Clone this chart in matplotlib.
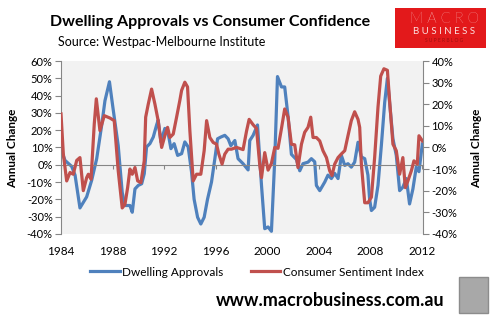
import matplotlib.pyplot as plt
from matplotlib.patches import Rectangle

# Dwelling approvals, annual change (%), left axis
da_years = [1984.00, 1984.31, 1984.83, 1985.09, 1985.47, 1985.99, 1986.38, 1986.77, 1987.16, 1987.41,
            1987.76, 1988.03, 1988.44, 1988.57, 1988.75, 1988.96, 1989.35, 1989.53, 1989.74, 1989.99,
            1990.26, 1990.46, 1990.64, 1990.90, 1991.16, 1991.42, 1991.54, 1991.75, 1992.06, 1992.27,
            1992.53, 1992.78, 1993.05, 1993.36, 1993.61, 1993.87, 1994.13, 1994.33, 1994.60, 1994.85,
            1995.11, 1995.37, 1995.68, 1995.94, 1996.15, 1996.40, 1996.71, 1996.97, 1997.18, 1997.49,
            1997.74, 1998.13, 1998.52, 1998.65, 1998.91, 1999.25, 1999.56, 1999.81, 2000.07, 2000.33,
            2000.59, 2000.80, 2001.11, 2001.36, 2001.62, 2001.88, 2002.27, 2002.53, 2002.78, 2003.17,
            2003.43, 2003.69, 2003.82, 2004.08, 2004.47, 2004.72, 2004.98, 2005.24, 2005.50, 2005.76,
            2006.02, 2006.27, 2006.53, 2006.79, 2007.05, 2007.31, 2007.57, 2007.82, 2007.95, 2008.09,
            2008.34, 2008.60, 2008.86, 2009.12, 2009.33, 2009.50, 2009.76, 2010.02, 2010.28, 2010.53,
            2010.80, 2011.05, 2011.31, 2011.57, 2011.78, 2012.04]
dwelling = [9, 2.5, -1, -6, -25, -18.6, -9, 3.5, 23, 37,
            48, 33, 11, -0.4, -16, -23.6, -23.6, -27.5, -14, -12,
            -11, -5.2, 10.3, 12.2, 16, 23, 25.8, 13.2, 21, 20,
            9.3, 12.2, 5.4, 6.4, 13.2, 10.3, -4.2, -20, -30.4, -34.3,
            -30.4, -20, -10, 3.5, 15, 16, 17, 15, 11, 14,
            3.5, 0.6, -3, 14, 17, 23, -12, -37, -36, -38.5,
            3.5, 51, 45, 45, 28, 6, 3, -3.5, 0.6, 1.5,
            3.5, 1.7, -12, -15, -10, -6, -8, -5, -8, 5.4,
            -0.4, 0.6, -1.4, 1.5, 13, 4.5, 3.5, -6, -20, -26.5,
            -24.6, -12, 11, 36, 50, 36, 15, 5.4, -15, -13,
            -8, -22.7, -14, -1.4, -4, 12]

# Consumer sentiment index, annual change (%), right axis
cs_years = [1984.00, 1984.18, 1984.44, 1984.70, 1984.95, 1985.22, 1985.47, 1985.73, 1985.99, 1986.12,
            1986.33, 1986.58, 1986.74, 1987.02, 1987.36, 1987.80, 1988.13, 1988.44, 1988.75, 1988.96,
            1989.17, 1989.35, 1989.53, 1989.74, 1989.95, 1990.20, 1990.46, 1990.57, 1990.77, 1991.03,
            1991.29, 1991.54, 1991.81, 1992.06, 1992.27, 1992.45, 1992.71, 1992.97, 1993.22, 1993.36,
            1993.61, 1993.82, 1994.00, 1994.26, 1994.52, 1994.85, 1995.11, 1995.30, 1995.55, 1995.81,
            1996.07, 1996.25, 1996.50, 1996.71, 1996.97, 1997.23, 1997.62, 1997.88, 1998.13, 1998.40,
            1998.60, 1998.91, 1999.17, 1999.43, 1999.56, 1999.81, 2000.07, 2000.33, 2000.59, 2000.84,
            2001.11, 2001.36, 2001.62, 2001.88, 2002.14, 2002.39, 2002.66, 2002.91, 2003.17, 2003.38,
            2003.56, 2003.82, 2004.08, 2004.33, 2004.60, 2004.85, 2005.03, 2005.24, 2005.50, 2005.76,
            2006.02, 2006.27, 2006.53, 2006.79, 2007.05, 2007.18, 2007.31, 2007.57, 2007.82, 2008.09,
            2008.34, 2008.60, 2008.81, 2009.06, 2009.33, 2009.50, 2009.76, 2010.02, 2010.28, 2010.53,
            2010.72, 2010.92, 2011.19, 2011.39, 2011.65, 2011.78, 2012.05]
sentiment = [15.5, -3, -15.5, -11.6, -12.4, -6, -4.7, -20, -14, -12.4,
             -14.7, 10.8, 22.5, 7.8, 14.7, 13.6, 12.4, -10.8, -28, -26.4,
             -18.6, -10, -12.4, -9.3, -15.5, -16.3, -6.2, 14, 20, 27,
             20, 12.4, 0, 5.4, 9.3, 4.6, 6.2, 14, 21.7, 26.4,
             30.2, 28, 7.8, -15.5, -12.4, -12.4, -1.5, 12.4, 4.6, 2.3,
             1.5, -3.1, -7.7, -3.1, -0.8, -0.8, 0, -0.5, -1, 7.6,
             13, 10.5, 8.8, -8.5, -14, -2.4, -10.5, -7.4, 0, -0.4,
             8.8, 17.8, 14, 1.5, 1.2, -9.3, 1.5, 7, 9.3, 14,
             4.6, 4.6, 3, -1.5, -4.7, -10.8, -13, -7.7, -4.7, -3,
             -1.5, 5.4, 12.4, 16.5, 13, 9.3, -7.7, -25.6, -25.6, -23,
             -4.7, 18.6, 33, 36.4, 35.7, 21.7, 1.5, -1.5, -12.4, -4.7,
             -18.6, -15.5, -10.8, -6.2, -7.7, 5.4, 3]

x_ticks = [1984, 1988, 1992, 1996, 2000, 2004, 2008, 2012]
left_ticks = list(range(-40, 61, 10))
right_ticks = list(range(-40, 41, 10))

blue = '#4F81BD'
red = '#C0504D'
grey = '#868686'

plt.rcParams['font.family'] = ['Lato', 'DejaVu Sans']

fig = plt.figure(figsize=(4.96, 3.28), dpi=100)
ax = fig.add_axes([0.123, 0.287, 0.730, 0.527])
ax2 = ax.twinx()

ax.set_facecolor('#F2F2F2')
ax.plot(da_years, dwelling, color=blue, lw=2.3, label='Dwelling Approvals', solid_joinstyle='round')
ax2.plot(cs_years, sentiment, color=red, lw=2.3, label='Consumer Sentiment Index', solid_joinstyle='round')

ax.set_xlim(1984, 2012.1)
ax.set_ylim(-40, 60)
ax2.set_ylim(-40, 40)
ax.set_xticks(x_ticks)
ax.set_yticks(left_ticks)
ax2.set_yticks(right_ticks)
ax.yaxis.set_major_formatter(lambda v, p: f'{v:.0f}%')
ax2.yaxis.set_major_formatter(lambda v, p: f'{v:.0f}%')

for s in ['top', 'right']:
    ax.spines[s].set_visible(False)
ax.spines['left'].set_color(grey)
ax.spines['bottom'].set_position(('data', 0))
ax.spines['bottom'].set_color(grey)
for s in ['top', 'left', 'bottom']:
    ax2.spines[s].set_visible(False)
ax2.spines['right'].set_color(grey)

ax.tick_params(axis='x', direction='out', length=3, color=grey, labelbottom=False)
ax.tick_params(axis='y', direction='out', length=4, color=grey, labelsize=8, pad=2)
ax2.tick_params(axis='y', direction='out', length=4, color=grey, labelsize=8, pad=2)
ax2.xaxis.set_visible(True)
ax2.tick_params(axis='x', length=0, labelbottom=True, labelsize=8.5, pad=9)

fig.text(13 / 496, 1 - 148 / 328, 'Annual Change', rotation=90, fontsize=8.5,
         fontweight='bold', ha='center', va='center')
fig.text(477 / 496, 1 - 148 / 328, 'Annual Change', rotation=90, fontsize=8.5,
         fontweight='bold', ha='center', va='center')

# titles
fig.text(210 / 496, 1 - 22 / 328, 'Dwelling Approvals vs Consumer Confidence',
         fontsize=11.5, fontweight='bold', ha='center', va='center')
fig.text(58 / 496, 1 - 42 / 328, 'Source: Westpac-Melbourne Institute',
         fontsize=9, ha='left', va='center')

# legend
h1, l1 = ax.get_legend_handles_labels()
h2, l2 = ax2.get_legend_handles_labels()
fig.legend(h1 + h2, l1 + l2, loc='center', bbox_to_anchor=(257 / 496, 1 - 272 / 328),
           ncol=2, frameon=False, fontsize=8.5, handlelength=2.5, handletextpad=0.2,
           columnspacing=2.3)

# logo block
fig.patches.append(Rectangle((395 / 496, 1 - 48 / 328), 91 / 496, 40 / 328,
                             transform=fig.transFigure, facecolor='#E3191B', edgecolor='none'))
fig.text(444 / 496, 1 - 19 / 328, 'M A C R O', fontsize=10.5, color='white',
         ha='center', va='center', fontweight='light')
fig.text(444 / 496, 1 - 31.5 / 328, 'B U S I N E S S', fontsize=7, color='#FBE0E0',
         ha='center', va='center')
fig.text(444 / 496, 1 - 40.5 / 328, 'S U P E R B L O G', fontsize=3.5, color='#A01010',
         ha='center', va='center')

# footer
fig.text(330 / 496, 1 - 300 / 328, 'www.macrobusiness.com.au', fontsize=13,
         fontweight='bold', ha='center', va='center')
fig.patches.append(Rectangle((459 / 496, 1 - 313 / 328), 29 / 496, 36 / 328,
                             transform=fig.transFigure, facecolor='#A8A8A8',
                             edgecolor='#8C8C8C', lw=1))

fig.savefig('out.png', dpi=100)
